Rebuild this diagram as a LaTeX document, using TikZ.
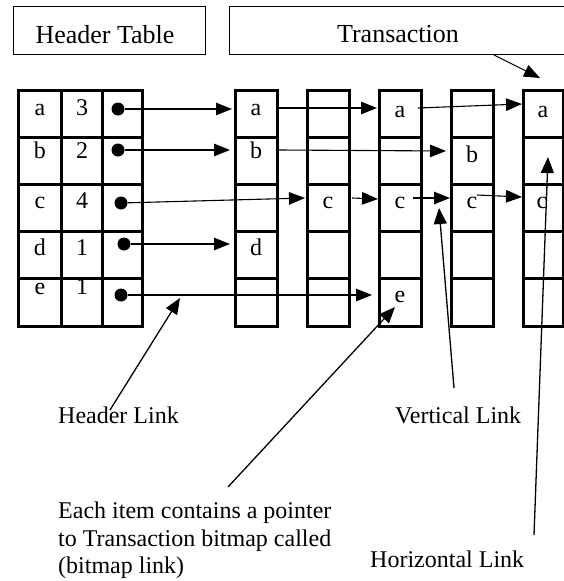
\documentclass[tikz,border=0pt]{standalone}
\usepackage{fontspec}
\setmainfont{Liberation Serif}
\usetikzlibrary{arrows.meta}
\begin{document}
\begin{tikzpicture}[x=1pt,y=-1pt,
  tbl/.style={line width=3pt, line join=miter},
  framebox/.style={line width=1pt},
  lbl/.style={font=\fontsize{24}{27.5}\selectfont, inner sep=0pt, anchor=base west},
  cell/.style={font=\fontsize{24}{28}\selectfont, inner sep=0pt, anchor=base},
  ttl/.style={font=\fontsize{26}{30}\selectfont, inner sep=0pt, anchor=base},
  ptr/.style={line width=1.1pt, -{Triangle[length=16pt,width=12.5pt]}},
  callout/.style={line width=1.3pt, -{Triangle[length=16pt,width=13pt]}},
  dotn/.style={circle, fill=black, inner sep=0pt, minimum size=13pt}]
\useasboundingbox (0,0) rectangle (564,581);
\clip (0,0) rectangle (564,581);

% title boxes
\draw[framebox] (13,6) rectangle (205,54);
\draw[framebox] (229,6) rectangle (580,54);
\node[ttl] (hdrtitle) at (105,43) {Header Table};
\node[ttl] (trtitle) at (398,42) {Transaction};

% header table
\draw[tbl] (18,90) rectangle (142,326);
\draw[tbl] (61,90) -- (61,326) (102,90) -- (102,326);
\foreach \yy in {137,184,231,278} \draw[tbl] (18,\yy) -- (142,\yy);

% transaction columns
\foreach \xa/\xb in {235/277,307/349,379/421,451/493,523/563} {
  \draw[tbl] (\xa,90) rectangle (\xb,326);
  \foreach \yy in {137,184,231,278} \draw[tbl] (\xa,\yy) -- (\xb,\yy);
}

% header table texts
\node[cell] (ha) at (40,115) {a};  \node[cell] (hca) at (82,115) {3};
\node[cell] (hb) at (40,158) {b};  \node[cell] (hcb) at (82,158) {2};
\node[cell] (hc) at (40,208) {c};  \node[cell] (hcc) at (82,208) {4};
\node[cell] (hd) at (40,255) {d};  \node[cell] (hcd) at (82,255) {1};
\node[cell] (he) at (40,294) {e};  \node[cell] (hce) at (82,294) {1};

% transaction texts
\node[cell] (t1a) at (256,115) {a};
\node[cell] (t1b) at (256,158) {b};
\node[cell] (t1d) at (256,255) {d};
\node[cell] (t2c) at (328,208) {c};
\node[cell] (t3a) at (400,117) {a};
\node[cell] (t3c) at (400,208) {c};
\node[cell] (t3e) at (400,302) {e};
\node[cell] (t4b) at (472,162) {b};
\node[cell] (t4c) at (472,208) {c};
\node[cell] (t5a) at (543,117) {a};
\node[cell] (t5c) at (542,208) {c};

% dots
\node[dotn] (dA) at (118,109) {};
\node[dotn] (dB) at (118,150) {};
\node[dotn] (dC) at (121,203) {};
\node[dotn] (dD) at (124,244) {};
\node[dotn] (dE) at (121,295) {};

% connector ends
\coordinate (tA1) at (232,109);
\coordinate (sA2) at (279,108);  \coordinate (tA2) at (377,108);
\coordinate (sA3) at (418,108);  \coordinate (tA3) at (522,104);
\coordinate (tB1) at (230,150);
\coordinate (sB2) at (279,150);  \coordinate (tB2) at (446,151);
\coordinate (tC1) at (305,198);
\coordinate (sC2) at (352,198);  \coordinate (tC2) at (378,199);
\coordinate (sC3) at (413,198);  \coordinate (tC3) at (450,198);
\coordinate (sC4) at (477,195);  \coordinate (tC4) at (522,197);
\coordinate (tD1) at (230,244);
\coordinate (tE1) at (372,295);
\coordinate (sT) at (494,55);    \coordinate (tT) at (540,78);

\draw[ptr] (dA) -- (tA1);
\draw[ptr] (sA2) -- (tA2);
\draw[ptr] (sA3) -- (tA3);
\draw[ptr] (dB) -- (tB1);
\draw[ptr] (sB2) -- (tB2);
\draw[ptr] (dC) -- (tC1);
\draw[ptr] (sC2) -- (tC2);
\draw[ptr] (sC3) -- (tC3);
\draw[ptr] (sC4) -- (tC4);
\draw[ptr] (dD) -- (tD1);
\draw[ptr] (dE) -- (tE1);
\draw[ptr] (sT) -- (tT);

% labels
\node[lbl] (lHeader) at (58,423) {Header Link};
\node[lbl] (lVert) at (395,423) {Vertical Link};
\node[lbl] (lEach1) at (58,518) {Each item contains a pointer};
\node[lbl] (lEach2) at (58,546) {to Transaction bitmap called};
\node[lbl] (lEach3) at (58,573) {(bitmap link)};
\node[lbl] (lHoriz) at (370,567) {Horizontal Link};

% callouts
\coordinate (cH) at (110,410);  \coordinate (hH) at (180,298);
\coordinate (cB) at (228,487);  \coordinate (hB) at (395,307);
\coordinate (cV) at (454,388);  \coordinate (hV) at (439,208);
\coordinate (cZ) at (534,535);  \coordinate (hZ) at (548,157);
\draw[callout] (cH) -- (hH);
\draw[callout] (cB) -- (hB);
\draw[callout] (cV) -- (hV);
\draw[callout] (cZ) -- (hZ);
\end{tikzpicture}
\end{document}
